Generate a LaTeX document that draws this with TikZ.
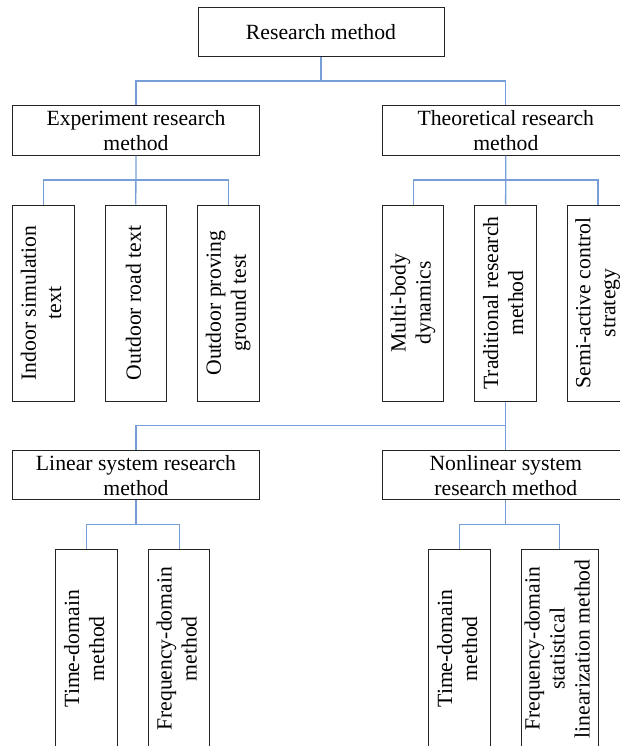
\documentclass[tikz,border=0pt]{standalone}
\usepackage{fontspec}
\setmainfont{Liberation Serif}
\definecolor{connblue}{RGB}{120,158,215}
\definecolor{boxline}{RGB}{35,35,35}
\newcommand{\vtext}[1]{\rotatebox{90}{\begin{tabular}{@{}c@{}}#1\end{tabular}}}
\begin{document}
\begin{tikzpicture}[x=1pt,y=-1pt,
  txt/.style={font=\fontsize{21.7}{25}\selectfont},
  hbox/.style={draw=boxline,line width=1pt,inner sep=0pt,minimum width=246.4pt,minimum height=49.2pt,align=center,txt},
  vbox/.style={draw=boxline,line width=1pt,inner sep=0pt,minimum width=61.5pt,minimum height=196pt,txt},
  lowbox/.style={vbox,minimum height=199pt},
  conn/.style={draw=connblue,line width=1.3pt}]
\useasboundingbox (0,0) rectangle (620,746);
\clip (0,0) rectangle (620,746);
% level 0
\node[hbox,minimum width=246pt] (top) at (321,32.3) {Research method};
% level 1
\node[hbox] (exp) at (136,130.5) {Experiment research\\method};
\node[hbox] (theo) at (505.8,130.5) {Theoretical research\\method};
% level 2
\node[vbox] (ind) at (43.5,303) {\vtext{Indoor simulation\\text}};
\node[vbox] (road) at (135.8,303) {\vtext{Outdoor road text}};
\node[vbox] (prov) at (228.4,303) {\vtext{Outdoor proving\\ground test}};
\node[vbox] (multi) at (413.2,303) {\vtext{Multi-body\\dynamics}};
\node[vbox] (trad) at (505.6,303) {\vtext{Traditional research\\method}};
\node[vbox] (semi) at (597.9,303) {\vtext{Semi-active control\\strategy}};
% level 3
\node[hbox] (lin) at (136,475.3) {Linear system research\\method};
\node[hbox] (nonlin) at (505.8,475.3) {Nonlinear system\\research method};
% level 4 (boxes run past the lower edge)
\node[lowbox,minimum width=61.7pt] (ltime) at (86.6,648.8) {\vtext{Time-domain\\method}};
\node[lowbox,minimum width=61.3pt] (lfreq) at (179.2,648.8) {\vtext{Frequency-domain\\method}};
\node[lowbox,minimum width=61.2pt] (rtime) at (459.5,648.8) {\vtext{Time-domain\\method}};
\node[lowbox,minimum width=77pt] (rfreq) at (559.5,648.8) {\vtext{Frequency-domain\\statistical\\linearization method}};
% bus coordinates
\coordinate (bus0) at (321,81);
\coordinate (bus1) at (136,180);
\coordinate (bus2) at (505.6,180);
\coordinate (bus3) at (505.6,425.7);
\coordinate (bus4) at (136,524.3);
\coordinate (bus5) at (505.8,524.3);
% connectors
\draw[conn] (top.south) -- (bus0);
\draw[conn] (exp.north) |- (bus0) -| (theo.north);
\draw[conn] (exp.south) -- (road.north);
\draw[conn] (ind.north) |- (bus1) -| (prov.north);
\draw[conn] (theo.south) -- (trad.north);
\draw[conn] (multi.north) |- (bus2) -| (semi.north);
\draw[conn] (trad.south) -- (bus3) -- (nonlin.north -| bus3);
\draw[conn] (lin.north) |- (bus3);
\draw[conn] (lin.south) -- (bus4);
\draw[conn] (ltime.north) |- (bus4) -| (lfreq.north);
\draw[conn] (nonlin.south) -- (bus5);
\draw[conn] (rtime.north) |- (bus5) -| (rfreq.north);
\end{tikzpicture}
\end{document}
